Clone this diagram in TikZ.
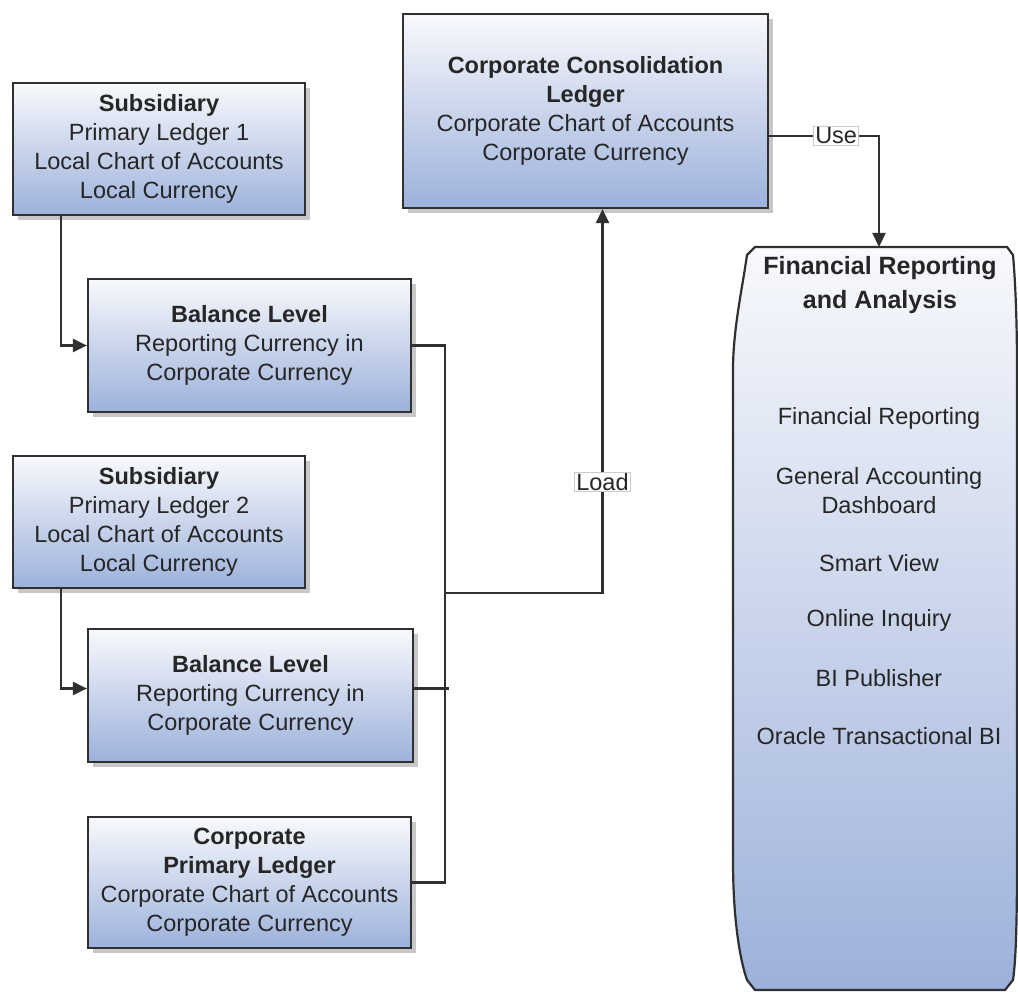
\documentclass[tikz,border=0pt]{standalone}
\usepackage{fontspec}
\setmainfont{Liberation Sans}
\usetikzlibrary{shadows,arrows.meta}
\definecolor{txt}{HTML}{262626}
\definecolor{topc}{HTML}{F8F9FC}
\definecolor{botc}{HTML}{9CB1DB}
\definecolor{edge}{HTML}{303030}
\tikzset{
 box/.style={draw=edge, line width=2.2pt, top color=topc, bottom color=botc,
   drop shadow={shadow xshift=5pt, shadow yshift=-5pt, fill=black, opacity=0.22},
   align=center, inner sep=0pt, text=txt, font=\fontsize{23.5}{29}\selectfont},
 conn/.style={draw=edge, line width=2.2pt},
 arr/.style={conn, -{Triangle[length=14pt,width=13pt]}},
 lbl/.style={draw=black!20, line width=0.8pt, fill=white, inner xsep=1.5pt, inner ysep=1pt,
   font=\fontsize{23.5}{29}\selectfont, text=txt},
 item/.style={font=\fontsize{23.5}{29}\selectfont, text=txt, align=center, inner sep=0pt}
}
\begin{document}
\begin{tikzpicture}[x=1pt,y=-1pt]
\useasboundingbox (0,0) rectangle (1018,992);

% boxes
\node[box, minimum width=292pt, minimum height=132pt] (sub1) at (159,149)
  {\textbf{Subsidiary}\\Primary Ledger 1\\Local Chart of Accounts\\Local Currency};
\node[box, minimum width=323pt, minimum height=133pt] (bal1) at (249.5,345.5)
  {\textbf{Balance Level}\\Reporting Currency in\\Corporate Currency};
\node[box, minimum width=292pt, minimum height=132pt] (sub2) at (159,522)
  {\textbf{Subsidiary}\\Primary Ledger 2\\Local Chart of Accounts\\Local Currency};
\node[box, minimum width=325pt, minimum height=133pt] (bal2) at (250.5,695.5)
  {\textbf{Balance Level}\\Reporting Currency in\\Corporate Currency};
\node[box, minimum width=323pt, minimum height=131pt] (corp) at (249.5,882.5)
  {\textbf{Corporate}\\\textbf{Primary Ledger}\\Corporate Chart of Accounts\\Corporate Currency};
\node[box, minimum width=365pt, minimum height=194pt] (ccl) at (585.5,111)
  {\textbf{Corporate Consolidation}\\\textbf{Ledger}\\Corporate Chart of Accounts\\Corporate Currency};

% Financial Reporting and Analysis shape
\path[draw=edge, line width=2.2pt, top color=topc, bottom color=botc]
 (755,247) -- (1007,247) -- (1013,255)
 .. controls (1016,290) and (1017,330) .. (1017,370) -- (1017,860)
 .. controls (1017,920) and (1016,960) .. (1013,980) -- (1005,990) -- (755,990) -- (747,980)
 .. controls (740,960) and (733,920) .. (733,860) -- (733,370)
 .. controls (733,330) and (742,290) .. (747,255) -- cycle;
\coordinate (fratop) at (879,247);
\node[item, font=\bfseries\fontsize{25}{34}\selectfont] (frah) at (880,285) {Financial Reporting\\and Analysis};
\node[item] (fr1) at (879,418) {Financial Reporting};
\node[item] (fr2) at (879,491) {General Accounting\\Dashboard};
\node[item] (fr3) at (879,563) {Smart View};
\node[item] (fr4) at (879,620) {Online Inquiry};
\node[item] (fr5) at (879,678) {BI Publisher};
\node[item] (fr6) at (879,736) {Oracle Transactional BI};

% connectors
\draw[arr] ([xshift=-98pt]sub1.south) |- (bal1.west);
\draw[arr] ([xshift=-98pt]sub2.south) |- ([yshift=7pt]bal2.west);
\coordinate (j) at (445,593);
\draw[conn] (bal1.east) -| (j);
\draw[conn] (corp.east) -| (j);
\draw[conn] ([yshift=7pt]bal2.east) -- ++(35,0);
\draw[arr] (j) -| ([xshift=17pt]ccl.south) node[lbl, pos=0.645] (load) {Load};
\draw[arr] ([yshift=-25pt]ccl.east) -| (fratop) node[lbl, pos=0.305] (use) {Use};
\end{tikzpicture}
\end{document}
